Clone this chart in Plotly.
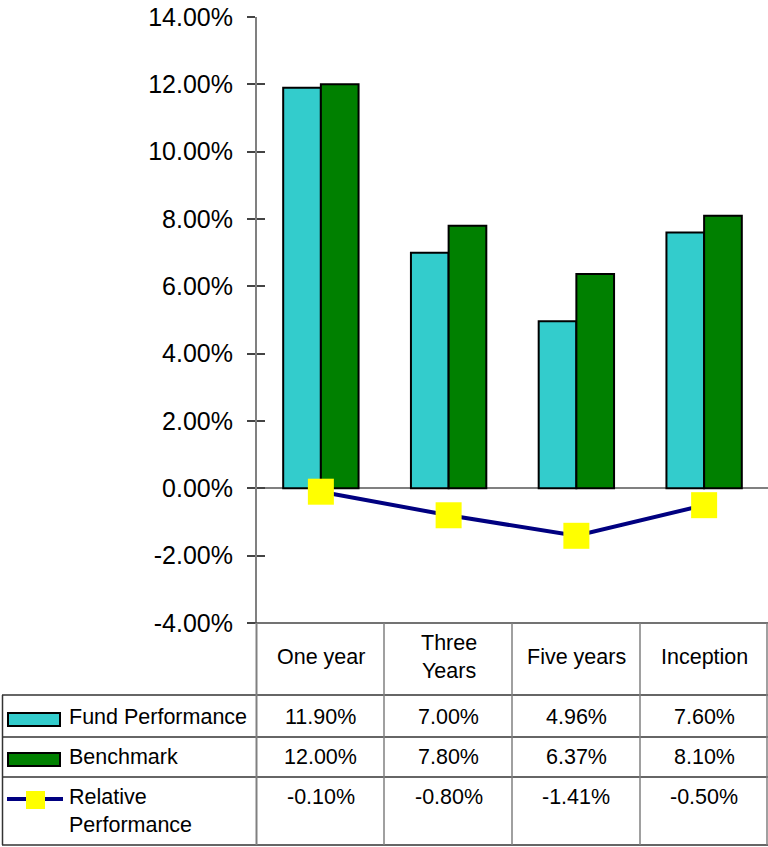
import plotly.graph_objects as go

# Trailing-period returns, in percent
categories = ["One year", "Three Years", "Five years", "Inception"]
header_labels = ["One year", "Three<br>Years", "Five years", "Inception"]
fund = [11.90, 7.00, 4.96, 7.60]
benchmark = [12.00, 7.80, 6.37, 8.10]
relative = [-0.10, -0.80, -1.41, -0.50]

series_names = ["Fund Performance", "Benchmark", "Relative<br>Performance"]

# Value axis ticks
tick_vals = [-4, -2, 0, 2, 4, 6, 8, 10, 12, 14]
tick_text = ["-4.00%", "-2.00%", "0.00%", "2.00%", "4.00%", "6.00%",
             "8.00%", "10.00%", "12.00%", "14.00%"]

W, H = 768, 847
FONT = "Liberation Sans, Arial, sans-serif"
GRID = "#6e6e6e"
CYAN = "#33CCCC"
GREEN = "#008000"
NAVY = "#000080"
YELLOW = "#FFFF00"


def px(x):
    return x / W


def py(y):
    return 1 - y / H


fig = go.Figure()
fig.add_trace(go.Bar(x=categories, y=fund, name=series_names[0],
                     marker=dict(color=CYAN, line=dict(color="black", width=2))))
fig.add_trace(go.Bar(x=categories, y=benchmark, name=series_names[1],
                     marker=dict(color=GREEN, line=dict(color="black", width=2))))
fig.add_trace(go.Scatter(x=categories, y=relative, name="Relative Performance",
                         mode="lines+markers",
                         line=dict(color=NAVY, width=4),
                         marker=dict(symbol="square", size=26, color=YELLOW,
                                     line=dict(width=0))))

yaxis_common = dict(range=[-4, 14], tickmode="array", tickvals=tick_vals,
                    automargin=False)

fig.update_layout(
    width=W, height=H,
    margin=dict(l=0, r=0, t=0, b=0, pad=0),
    paper_bgcolor="white", plot_bgcolor="white",
    showlegend=False,
    barmode="group", bargap=0.41, bargroupgap=0,
    font=dict(family=FONT, color="black"),
    xaxis=dict(domain=[px(257), 1], showticklabels=False, ticks="",
               automargin=False,
               showgrid=False, zeroline=False, showline=False, fixedrange=True),
    yaxis=dict(domain=[py(623), py(17)], **yaxis_common,
               ticktext=tick_text,
               tickfont=dict(size=25, family=FONT, color="black"),
               ticks="outside", ticklen=8, tickwidth=1.5, tickcolor="#444",
               ticklabelstandoff=9,
               showline=True, linecolor="#808080", linewidth=2,
               showgrid=False, zeroline=True, zerolinecolor="#808080",
               zerolinewidth=2),
    yaxis2=dict(domain=[py(623), py(17)], overlaying="y", **yaxis_common,
                showticklabels=False, ticks="inside", ticklen=8,
                tickwidth=1.5, tickcolor="#444", showline=False,
                showgrid=False, zeroline=False),
)
# invisible trace so the second y axis (inner tick marks) is drawn
fig.add_trace(go.Scatter(x=[categories[0]], y=[0], yaxis="y2", mode="markers",
                         marker=dict(opacity=0), hoverinfo="skip"))

# Data table grid
shapes = []
def hline(x0, x1, y, w=1.5, c=GRID):
    shapes.append(dict(type="line", xref="paper", yref="paper",
                       x0=px(x0), x1=px(x1), y0=py(y), y1=py(y),
                       line=dict(color=c, width=w)))

def vline(x, y0, y1, w=1.5, c=GRID):
    shapes.append(dict(type="line", xref="paper", yref="paper",
                       x0=px(x), x1=px(x), y0=py(y0), y1=py(y1),
                       line=dict(color=c, width=w)))

hline(248, 768, 623, c="#444")
hline(2, 768, 695, c="#333")
hline(2, 768, 737, c="#333")
hline(2, 768, 777, c="#333")
hline(2, 768, 845, c="#333")
vline(2.5, 695, 845, c="#333")
vline(256.5, 623, 845, w=2, c="#808080")
for xc in (384, 512, 640):
    vline(xc, 623, 845, c="#808080")
vline(767, 623, 845, c="#808080")

# Legend keys in the row headers
shapes.append(dict(type="rect", xref="paper", yref="paper",
                   x0=px(8), x1=px(60), y0=py(726), y1=py(713),
                   fillcolor=CYAN, line=dict(color="black", width=2)))
shapes.append(dict(type="rect", xref="paper", yref="paper",
                   x0=px(8), x1=px(60), y0=py(766), y1=py(753),
                   fillcolor=GREEN, line=dict(color="black", width=2)))
shapes.append(dict(type="line", xref="paper", yref="paper",
                   x0=px(7), x1=px(63), y0=py(799), y1=py(799),
                   line=dict(color=NAVY, width=4)))
shapes.append(dict(type="rect", xref="paper", yref="paper",
                   x0=px(26), x1=px(45), y0=py(809), y1=py(791),
                   fillcolor=YELLOW, line=dict(width=0)))
fig.update_layout(shapes=shapes)

# Table text
ann = []
TF = dict(family=FONT, size=21.5, color="black")
for cat, lab in zip(categories, header_labels):
    ann.append(dict(x=cat, xref="x", y=py(657), yref="paper", text=lab,
                    showarrow=False, font=TF, xanchor="center", yanchor="middle"))

row_y = [717, 757, 797]
for vals, yy in zip([fund, benchmark, relative], row_y):
    for cat, v in zip(categories, vals):
        ann.append(dict(x=cat, xref="x", y=py(yy), yref="paper",
                        text=f"{v:.2f}%", showarrow=False, font=TF,
                        xanchor="center", yanchor="middle"))

ann.append(dict(x=px(67), xref="paper", y=py(717), yref="paper",
                text=series_names[0], showarrow=False, font=TF,
                xanchor="left", yanchor="middle"))
ann.append(dict(x=px(67), xref="paper", y=py(757), yref="paper",
                text=series_names[1], showarrow=False, font=TF,
                xanchor="left", yanchor="middle"))
ann.append(dict(x=px(67), xref="paper", y=py(783), yref="paper",
                text=series_names[2], showarrow=False, font=TF,
                xanchor="left", yanchor="top", align="left"))
fig.update_layout(annotations=ann)

fig.write_html("out.html")
